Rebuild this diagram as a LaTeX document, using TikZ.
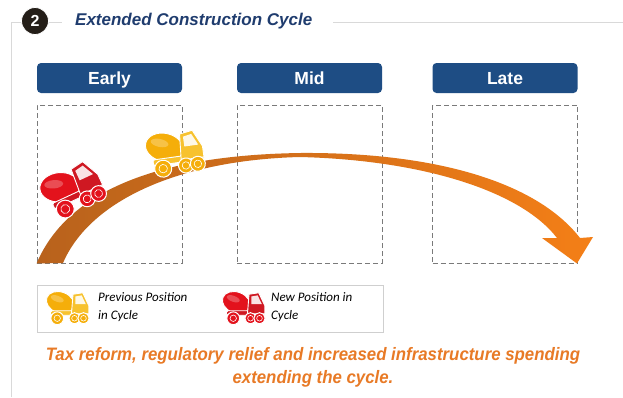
\documentclass[tikz,border=0pt]{standalone}
\usepackage{fontspec}
\setmainfont{Liberation Sans}
\newfontfamily\legendfont{Carlito}
\newfontfamily\slimfont[FakeStretch=0.935]{Liberation Sans}

\definecolor{framegray}{HTML}{D9D9D9}
\definecolor{badgedark}{HTML}{241E18}
\definecolor{titleblue}{HTML}{1F3C6E}
\definecolor{phaseblue}{HTML}{1E4D84}
\definecolor{slotgray}{HTML}{7A7A7A}
\definecolor{arrowbrown}{HTML}{B8621C}
\definecolor{arrowmid}{HTML}{D96F17}
\definecolor{arroworange}{HTML}{F47F17}
\definecolor{taxorange}{HTML}{E87A26}
\definecolor{legendgray}{HTML}{CFCFCF}
\definecolor{truckred}{HTML}{E3121C}
\definecolor{cabred}{HTML}{CF1822}
\definecolor{truckyellow}{HTML}{F5AE0A}
\definecolor{cabyellow}{HTML}{F7C22E}

\tikzset{
  frame/.style={draw=framegray, line width=1pt},
  badge/.style={circle, fill=badgedark, draw=white, line width=0.8pt,
    minimum size=27pt, inner sep=0pt, text=white,
    font=\bfseries\fontsize{16}{16}\selectfont},
  titletext/.style={anchor=west, inner sep=0pt, text=titleblue,
    font=\bfseries\itshape\fontsize{17}{20}\selectfont},
  phase/.style={rounded corners=4pt, fill=phaseblue, text=white,
    minimum width=145pt, minimum height=30pt, inner sep=0pt,
    text height=12.6pt, text depth=0pt,
    font=\bfseries\fontsize{17.5}{20}\selectfont},
  slot/.style={draw=slotgray, dash pattern=on 5pt off 3pt, line width=0.9pt,
    minimum width=145pt, minimum height=158pt, inner sep=0pt},
  legendbox/.style={draw=legendgray, line width=1pt, fill=white,
    minimum width=346pt, minimum height=47pt, inner sep=0pt},
  legendtext/.style={anchor=west, align=left, inner sep=0pt,
    font=\legendfont\itshape\fontsize{13}{18}\selectfont},
  taxtext/.style={align=center, inner sep=0pt, text=taxorange,
    font=\slimfont\bfseries\itshape\fontsize{18}{23}\selectfont},
  pics/mixer/.style 2 args={code={
    % mixing drum
    \fill[#1, draw=white, line width=0.9pt, rotate around={-20:(-9,-6)}]
      (-9,-6) ellipse [x radius=19, y radius=14];
    \fill[white, opacity=0.25, rotate around={-20:(-13,-11)}]
      (-13,-11) ellipse [x radius=9, y radius=4];
    % chassis
    \fill[#2, draw=white, line width=0.9pt, rounded corners=1.5pt]
      (-22,5) rectangle (29,11);
    % cab with window
    \fill[#2, draw=white, line width=0.9pt]
      (8,-17) -- (21,-19) -- (29,-2) -- (29,9) -- (6,9) -- cycle;
    \fill[white!88!#2] (11,-14) -- (19.5,-15.5) -- (25,-4) -- (11,-4) -- cycle;
    % wheels
    \foreach \wheelx/\wheelr in {-13/8.5, 10/7.5, 22/7.5}{
      \fill[#1, draw=white, line width=1pt] (\wheelx,15) circle [radius=\wheelr];
      \draw[white, line width=0.6pt] (\wheelx,15) circle [radius=\wheelr*0.5];
    }
  }}
}

\begin{document}
\begin{tikzpicture}[x=1pt, y=-1pt]
\useasboundingbox (0,0) rectangle (623,397);
\fill[white] (0,0) rectangle (623,397);

% section frame and heading
\draw[frame] (11,397) -- (11,22) -- (62,22);
\draw[frame] (333,22) -- (623,22);
\node[badge] (badge) at (35,21) {2};
\node[titletext] (title) at (75,21) {Extended Construction Cycle};

% phase headers
\node[phase] (early) at (109.5,78) {Early};
\node[phase] (mid)   at (309.5,78) {Mid};
\node[phase] (late)  at (505,78)   {Late};

% dashed phase areas
\node[slot] (earlyslot) at (109.5,184) {};
\node[slot] (midslot)   at (309.5,184) {};
\node[slot] (lateslot)  at (505,184)   {};

% the cycle arrow
\coordinate (rise) at (earlyslot.south west);
\coordinate (tip)  at ([xshift=-1pt]lateslot.south east);
\shade[left color=arrowbrown, middle color=arrowmid, right color=arroworange]
  (rise) .. controls (70,185) and (170,155) .. (300,153)
         .. controls (430,152) and (535,180) .. (580,238)
  -- (593,237) -- (tip) -- (542,238) -- (557,238)
         .. controls (520,190) and (420,160) .. (300,157)
         .. controls (180,160) and (90,200) .. (63,263)
  -- cycle;

% trucks on the curve
\pic[rotate=25, scale=1.05] (newtruck) at (71,189) {mixer={truckred}{cabred}};
\pic[rotate=8, scale=1.0] (oldtruck) at (174,152) {mixer={truckyellow}{cabyellow}};

% legend
\node[legendbox] (legend) at (210,308.5) {};
\pic[scale=0.75] (legold) at (67,307) {mixer={truckyellow}{cabyellow}};
\node[legendtext] (prevlabel) at (98,307) {Previous Position\\in Cycle};
\pic[scale=0.75] (legnew) at (243,307) {mixer={truckred}{cabred}};
\node[legendtext] (newlabel) at (271,307) {New Position in\\Cycle};

% closing statement
\node[taxtext] (tax) at (313,367.5)
  {Tax reform, regulatory relief and increased infrastructure spending\\extending the cycle.};
\end{tikzpicture}
\end{document}
